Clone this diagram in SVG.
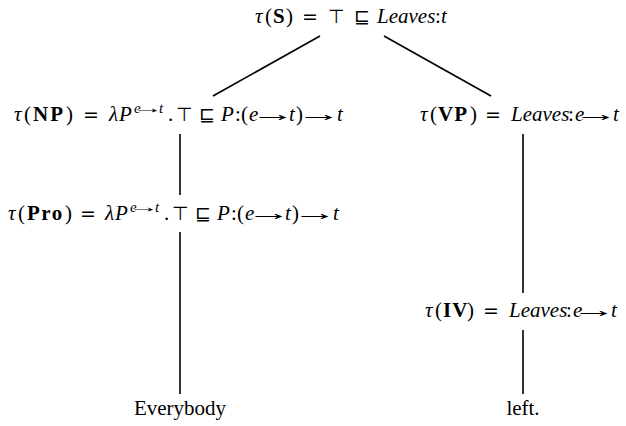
<svg xmlns="http://www.w3.org/2000/svg" width="626" height="426" viewBox="0 0 626 426">
<style>
text{font-family:"Liberation Serif","DejaVu Serif",serif;font-size:21px;fill:#000}
.i{font-style:italic}
.b{font-weight:bold}
.s{font-size:15px}
.sy{font-family:"DejaVu Sans",sans-serif;font-size:19px}
text.a{font-family:"Liberation Sans",sans-serif;font-size:21px}
text.sa{font-family:"Liberation Sans",sans-serif;font-size:15px}
.e{stroke:#000;stroke-width:1.6;fill:none}
</style>
<rect width="626" height="426" fill="#fff"/>
<g id="connectors">
<line class="e" x1="320" y1="36" x2="213" y2="96"/>
<line class="e" x1="384" y1="36" x2="491" y2="96"/>
<line class="e" x1="180" y1="134" x2="180" y2="195"/>
<line class="e" x1="180" y1="232" x2="180" y2="394"/>
<line class="e" x1="523" y1="134" x2="523" y2="293"/>
<line class="e" x1="523" y1="330" x2="523" y2="394"/>
</g>
<g id="S"><text y="23"><tspan class="i" x="255">τ</tspan><tspan x="265">(</tspan><tspan class="b" x="273">S</tspan><tspan x="286">)</tspan><tspan class="sy" x="302">=</tspan><tspan class="sy" x="328">⊤</tspan><tspan class="sy" x="354">⊑</tspan><tspan class="i" x="377">Leaves</tspan><tspan x="435">:</tspan><tspan class="i" x="441">t</tspan></text></g>
<g id="NP">
<text y="121"><tspan class="i" x="14">τ</tspan><tspan x="24">(</tspan><tspan class="b" x="33" letter-spacing="2">NP</tspan><tspan x="66">)</tspan><tspan class="sy" x="83">=</tspan><tspan class="i" x="109">λ</tspan><tspan class="i" x="119">P</tspan><tspan class="s i" x="134" y="113">e</tspan><tspan class="s i" x="159" y="113">t</tspan><tspan x="168" y="121">.</tspan><tspan class="sy" x="176">⊤</tspan><tspan class="sy" x="199">⊑</tspan><tspan class="i" x="221">P</tspan><tspan x="235">:</tspan><tspan x="241">(</tspan><tspan class="i" x="249">e</tspan><tspan class="i" x="289">t</tspan><tspan x="296">)</tspan><tspan class="i" x="337">t</tspan></text>
<text class="sa" transform="translate(132 113) scale(2.09 1)">→</text>
<text class="a" transform="translate(250.7 121) scale(2.13 1)">→</text>
<text class="a" transform="translate(296.7 121) scale(2.13 1)">→</text>
</g>
<g id="Pro">
<text y="220"><tspan class="i" x="8">τ</tspan><tspan x="18">(</tspan><tspan class="b" x="27" letter-spacing="1.5">Pro</tspan><tspan x="65">)</tspan><tspan class="sy" x="80">=</tspan><tspan class="i" x="105">λ</tspan><tspan class="i" x="115">P</tspan><tspan class="s i" x="130" y="212">e</tspan><tspan class="s i" x="155" y="212">t</tspan><tspan x="164" y="220">.</tspan><tspan class="sy" x="172">⊤</tspan><tspan class="sy" x="195">⊑</tspan><tspan class="i" x="217">P</tspan><tspan x="231">:</tspan><tspan x="237">(</tspan><tspan class="i" x="245">e</tspan><tspan class="i" x="285">t</tspan><tspan x="292">)</tspan><tspan class="i" x="333">t</tspan></text>
<text class="sa" transform="translate(128 212) scale(2.09 1)">→</text>
<text class="a" transform="translate(246.7 220) scale(2.13 1)">→</text>
<text class="a" transform="translate(292.7 220) scale(2.13 1)">→</text>
</g>
<g id="VP">
<text y="121"><tspan class="i" x="420">τ</tspan><tspan x="430">(</tspan><tspan class="b" x="438" letter-spacing="1">VP</tspan><tspan x="470">)</tspan><tspan class="sy" x="485">=</tspan><tspan class="i" x="511">Leaves</tspan><tspan x="568">:</tspan><tspan class="i" x="575">e</tspan><tspan class="i" x="613">t</tspan></text>
<text class="a" transform="translate(573.7 121) scale(2.13 1)">→</text>
</g>
<g id="IV">
<text y="317"><tspan class="i" x="425">τ</tspan><tspan x="435">(</tspan><tspan class="b" x="443" letter-spacing="1">IV</tspan><tspan x="467">)</tspan><tspan class="sy" x="483">=</tspan><tspan class="i" x="509">Leaves</tspan><tspan x="566">:</tspan><tspan class="i" x="573">e</tspan><tspan class="i" x="611">t</tspan></text>
<text class="a" transform="translate(571.7 317) scale(2.13 1)">→</text>
</g>
<g id="Everybody"><text x="180" y="415" text-anchor="middle">Everybody</text></g>
<g id="left"><text x="523" y="415" text-anchor="middle">left.</text></g>
</svg>
